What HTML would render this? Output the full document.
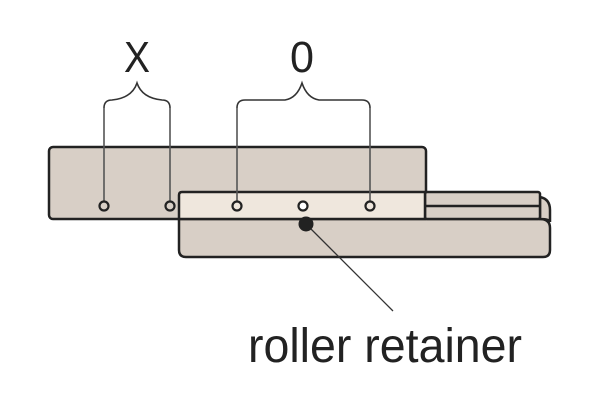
<!DOCTYPE html>
<html><head><meta charset="utf-8"><style>html,body{margin:0;padding:0;background:#fff}svg{display:block}</style></head>
<body>
<svg width="600" height="400" viewBox="0 0 600 400" xmlns="http://www.w3.org/2000/svg">
<g stroke="#222" stroke-width="2.5" fill="#d8cfc6">
  <rect x="49" y="147" width="377" height="72" rx="4"/>
  <path d="M179 219 H540 Q550 219 550 228 V250 Q550 257 543 257 H186 Q179 257 179 250 Z"/>
  <path d="M540 197 Q550 199 550 210 V222 Q550 219 540 219 Z"/>
  <rect x="425" y="192" width="115" height="27" rx="2"/>
  <line x1="425" y1="206" x2="540" y2="206"/>
  <path d="M179 219 V195 Q179 192 182 192 H425 V219 Z" fill="#efe7dd"/>
</g>
<g stroke="#555" stroke-width="1.6" fill="none">
  <line x1="104" y1="108" x2="104" y2="202"/>
  <line x1="170" y1="108" x2="170" y2="202"/>
  <line x1="237" y1="108" x2="237" y2="202"/>
  <line x1="370" y1="108" x2="370" y2="202"/>
  <path d="M104 108 Q104 100 112 100 Q132 98 137 83 Q142 98 162 100 Q170 100 170 108" stroke="#333"/>
  <path d="M237 108 Q237 100 245 100 H285 Q297 98 302 83 Q307 98 319 100 H362 Q370 100 370 108" stroke="#333"/>
</g>
<g stroke="#222" stroke-width="2.2" fill="#fff">
  <circle cx="104" cy="206" r="4.5" fill="#d8cfc6"/>
  <circle cx="170" cy="206" r="4.5" fill="#d8cfc6"/>
  <circle cx="237" cy="206" r="4.5" fill="#efe7dd"/>
  <circle cx="303" cy="206" r="4.5"/>
  <circle cx="370" cy="206" r="4.5" fill="#efe7dd"/>
</g>
<line x1="306" y1="224" x2="393" y2="311" stroke="#333" stroke-width="1.3"/>
<circle cx="306" cy="224" r="7.5" fill="#222"/>
<g font-family="Liberation Sans, sans-serif" fill="#222">
  <text x="137" y="72" font-size="44" text-anchor="middle" textLength="26" lengthAdjust="spacingAndGlyphs">X</text>
  <text x="302" y="72" font-size="44" text-anchor="middle" textLength="24" lengthAdjust="spacingAndGlyphs">0</text>
  <text x="248" y="362" font-size="48" textLength="274" lengthAdjust="spacingAndGlyphs">roller retainer</text>
</g>
</svg>
</body></html>
